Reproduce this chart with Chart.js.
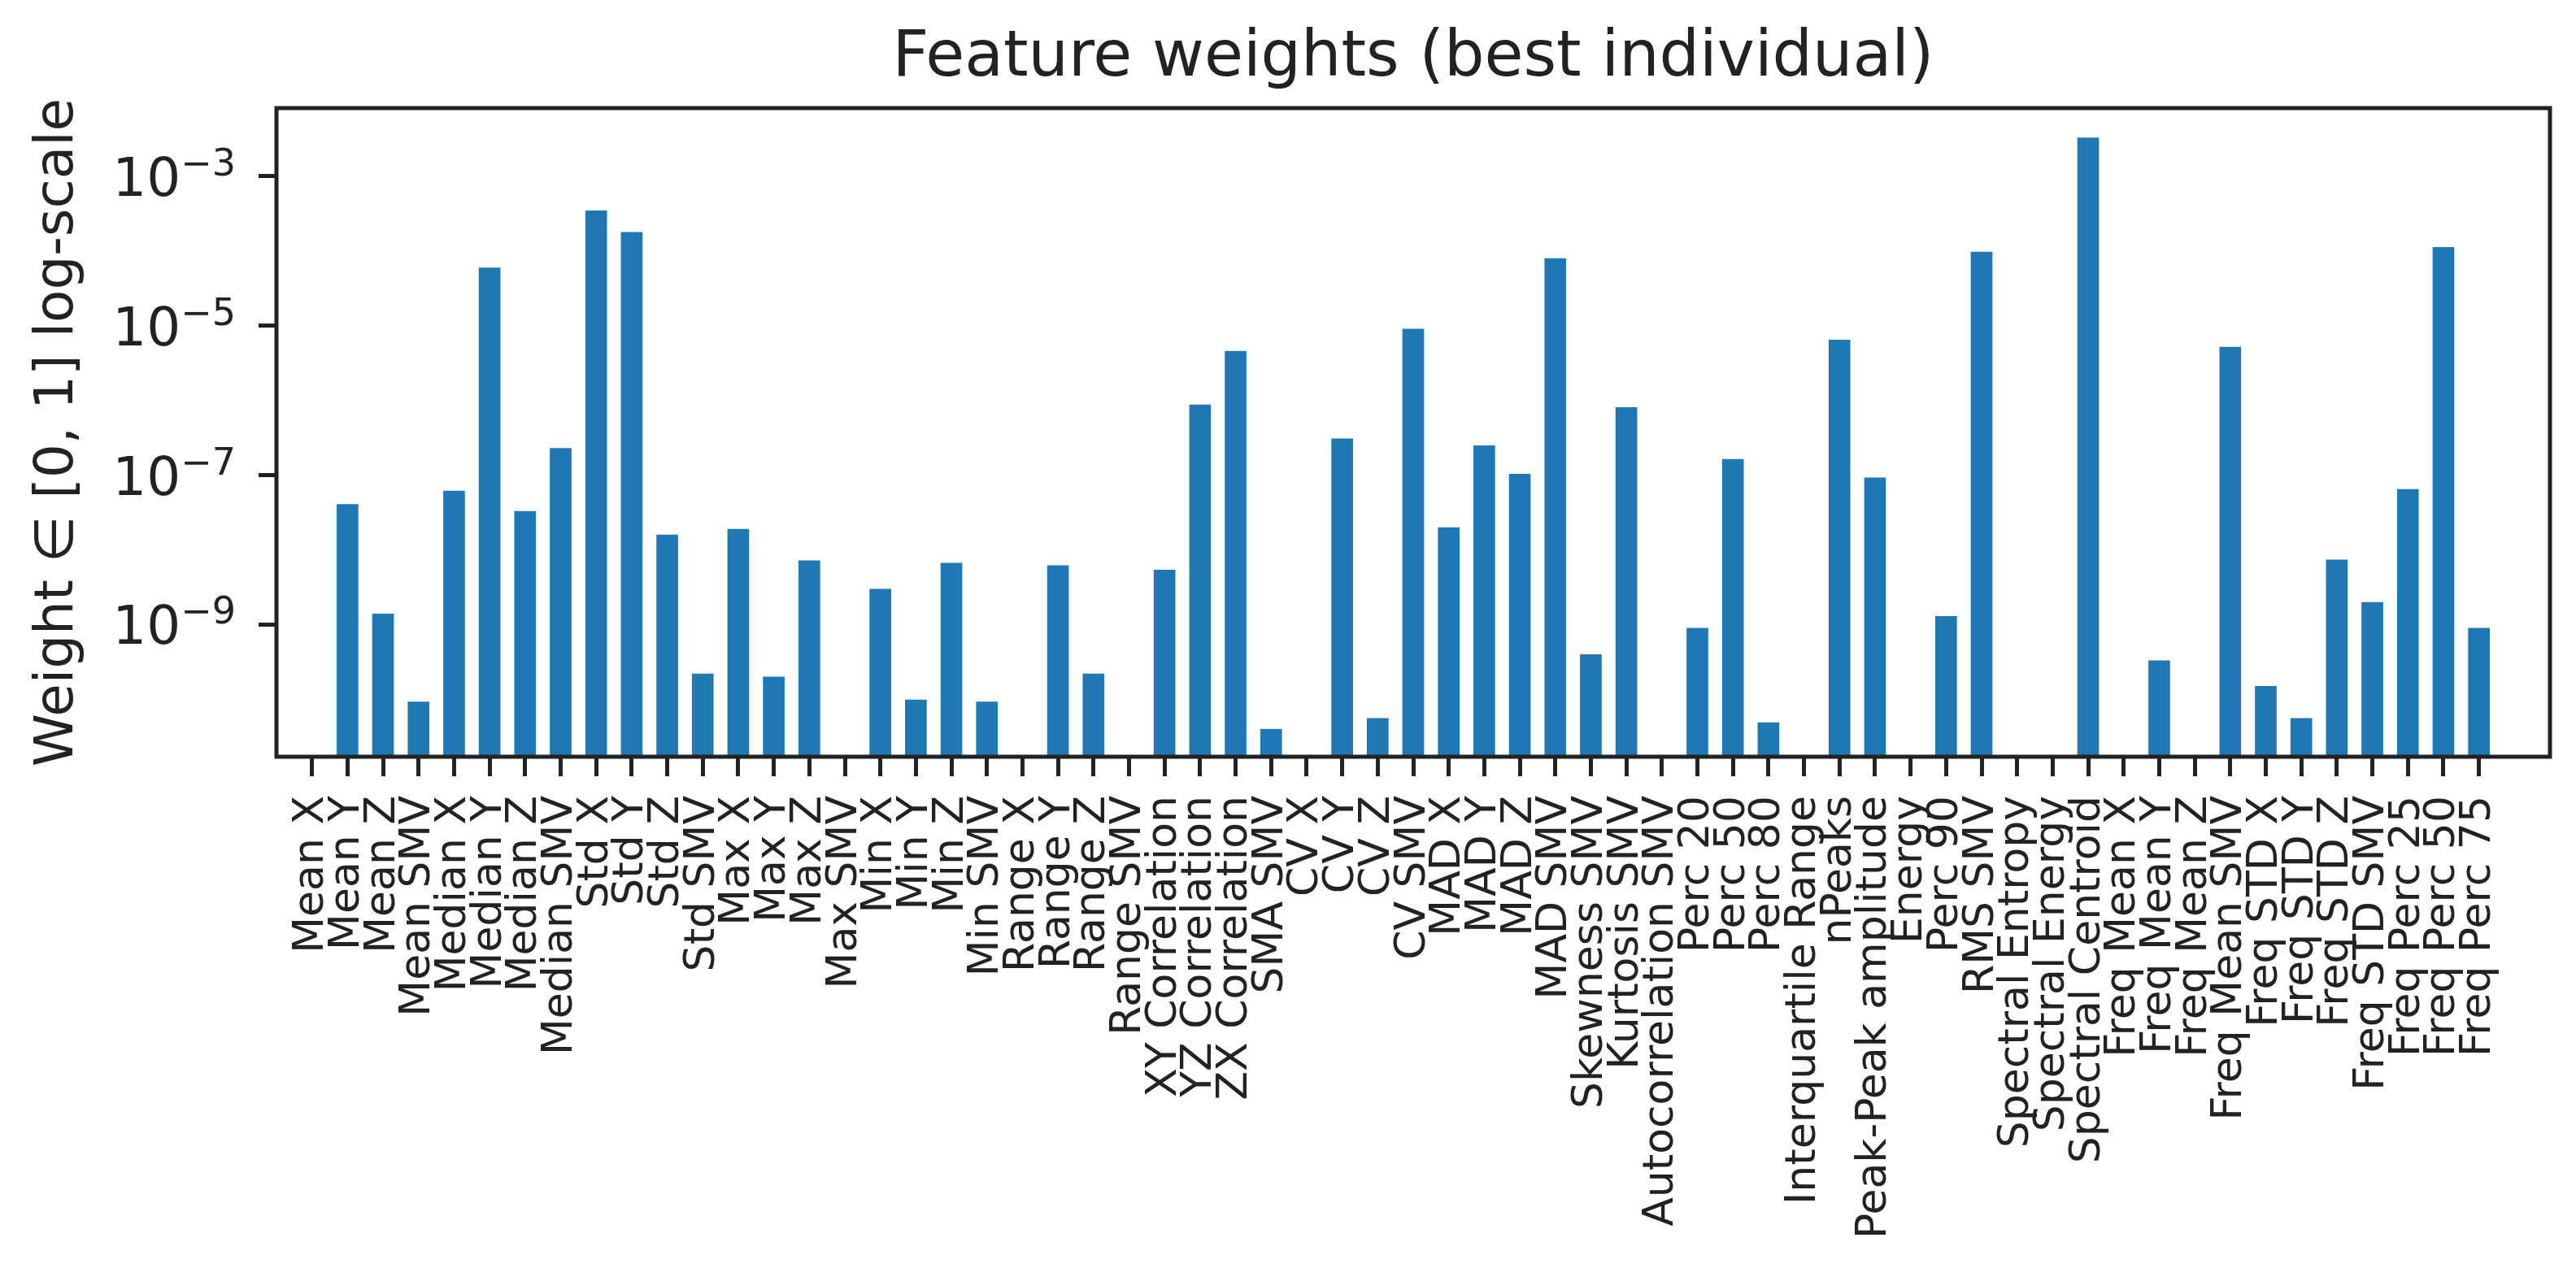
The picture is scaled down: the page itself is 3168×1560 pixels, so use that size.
<!DOCTYPE html>
<html>
<head>
<meta charset="utf-8">
<script src="https://cdn.jsdelivr.net/npm/chart.js@4.4.1/dist/chart.umd.min.js"></script>
<style>
    html, body { margin: 0; padding: 0; background: #ffffff; }
    #wrap { width: 3168px; height: 1560px; }
</style>
</head>
<body>
<div id="wrap"><canvas id="chartPesos" width="3168" height="1560"></canvas></div>
<script>
// Nombres de las features (eje x)
const featureNames = [
    'Mean X', 'Mean Y', 'Mean Z', 'Mean SMV',
    'Median X', 'Median Y', 'Median Z', 'Median SMV',
    'Std X', 'Std Y', 'Std Z', 'Std SMV',
    'Max X', 'Max Y', 'Max Z', 'Max SMV',
    'Min X', 'Min Y', 'Min Z', 'Min SMV',
    'Range X', 'Range Y', 'Range Z', 'Range SMV',
    'XY Correlation', 'YZ Correlation', 'ZX Correlation', 'SMA SMV',
    'CV X', 'CV Y', 'CV Z', 'CV SMV',
    'MAD X', 'MAD Y', 'MAD Z', 'MAD SMV',
    'Skewness SMV', 'Kurtosis SMV', 'Autocorrelation SMV',
    'Perc 20', 'Perc 50', 'Perc 80', 'Interquartile Range',
    'nPeaks', 'Peak-Peak amplitude', 'Energy', 'Perc 90', 'RMS SMV',
    'Spectral Entropy', 'Spectral Energy', 'Spectral Centroid',
    'Freq Mean X', 'Freq Mean Y', 'Freq Mean Z', 'Freq Mean SMV',
    'Freq STD X', 'Freq STD Y', 'Freq STD Z', 'Freq STD SMV',
    'Freq Perc 25', 'Freq Perc 50', 'Freq Perc 75'
];

// Pesos del mejor individuo (null = peso 0, sin barra en escala log)
const weights = [
    null, 4.1e-8, 1.4e-9, 9.3e-11,
    6.2e-8, 6.0e-5, 3.3e-8, 2.3e-7,
    3.5e-4, 1.8e-4, 1.6e-8, 2.2e-10,
    1.9e-8, 2.0e-10, 7.2e-9, null,
    3.0e-9, 9.9e-11, 6.7e-9, 9.3e-11,
    null, 6.2e-9, 2.2e-10, null,
    5.4e-9, 8.8e-7, 4.6e-6, 4.0e-11,
    null, 3.1e-7, 5.6e-11, 9.1e-6,
    2.0e-8, 2.5e-7, 1.04e-7, 8.0e-5,
    4.0e-10, 8.1e-7, null,
    9.0e-10, 1.64e-7, 4.9e-11, null,
    6.5e-6, 9.3e-8, null, 1.3e-9, 9.8e-5,
    null, null, 3.3e-3,
    null, 3.3e-10, null, 5.2e-6,
    1.5e-10, 5.6e-11, 7.4e-9, 2.0e-9,
    6.5e-8, 1.13e-4, 9.0e-10
];

// Ticks del eje y (base y exponente para dibujar 10^n)
const yTicks = [1e-9, 1e-7, 1e-5, 1e-3];
const yTickBase = '10';
const yTickExps = ['−9', '−7', '−5', '−3'];

// Límites de los ejes
const yMin = Math.pow(10, -10.77);
const yMax = Math.pow(10, -2.086);
const xMin = -1;
const xMax = 63;

const INK = '#222222';
const FONT = 'DejaVu Sans';

// Marco completo alrededor del área del gráfico
const framePlugin = {
    id: 'frame',
    afterDatasetsDraw(chart) {
        const { ctx, chartArea: a } = chart;
        ctx.save();
        ctx.strokeStyle = INK;
        ctx.lineWidth = 5;
        ctx.strokeRect(a.left, a.top, a.right - a.left, a.bottom - a.top);
        ctx.restore();
    }
};

// Etiquetas 10^n del eje y con el exponente en superíndice (como mathtext)
const expLabelsPlugin = {
    id: 'expLabels',
    afterDraw(chart) {
        const { ctx } = chart;
        const scale = chart.scales.y;
        const xEnd = scale.right - 22 - 28;
        ctx.save();
        ctx.fillStyle = INK;
        ctx.textBaseline = 'alphabetic';
        ctx.textAlign = 'left';
        scale.ticks.forEach((tick) => {
            const i = yTicks.indexOf(tick.value);
            if (i < 0) return;
            const y = scale.getPixelForValue(tick.value);
            ctx.font = `46px "${FONT}"`;
            const wExp = ctx.measureText(yTickExps[i]).width;
            ctx.font = `66px "${FONT}"`;
            const wBase = ctx.measureText(yTickBase).width;
            const x0 = xEnd - wExp - wBase;
            ctx.fillText(yTickBase, x0, y + 24);
            ctx.font = `46px "${FONT}"`;
            ctx.fillText(yTickExps[i], x0 + wBase, y - 1);
        });
        ctx.restore();
    }
};

const ctx = document.getElementById('chartPesos').getContext('2d');
new Chart(ctx, {
    type: 'bar',
    data: {
        datasets: [{
            label: 'Weight',
            data: featureNames.map((name, i) => ({ x: i, y: weights[i] })),
            backgroundColor: '#1f77b4',
            borderWidth: 0,
            barPercentage: 0.61,
            categoryPercentage: 1.0
        }]
    },
    options: {
        responsive: false,
        devicePixelRatio: 1,
        animation: false,
        layout: { padding: { left: 0, right: 32, top: 0, bottom: 0 } },
        plugins: {
            legend: { display: false },
            tooltip: { enabled: false },
            title: {
                display: true,
                fullSize: false,
                text: 'Feature weights (best individual)',
                color: INK,
                font: { family: FONT, size: 78, weight: 'normal' },
                padding: { top: 26, bottom: 13.4 }
            }
        },
        scales: {
            x: {
                type: 'linear',
                min: xMin,
                max: xMax,
                offset: false,
                afterBuildTicks: (scale) => {
                    scale.ticks = featureNames.map((_, i) => ({ value: i }));
                },
                afterFit: (scale) => { scale.height = 1560 - 931; },
                grid: {
                    drawOnChartArea: false,
                    offset: false,
                    tickLength: 24,
                    tickWidth: 5,
                    tickColor: INK
                },
                border: { display: false },
                ticks: {
                    autoSkip: false,
                    maxRotation: 90,
                    minRotation: 90,
                    padding: 24,
                    color: INK,
                    font: { family: FONT, size: 52 },
                    callback: (value) => featureNames[value] ?? ''
                }
            },
            y: {
                type: 'logarithmic',
                min: yMin,
                max: yMax,
                afterBuildTicks: (scale) => {
                    scale.ticks = yTicks.map(v => ({ value: v, major: true }));
                },
                afterFit: (scale) => { scale.width = 340; },
                grid: {
                    drawOnChartArea: false,
                    tickLength: 22,
                    tickWidth: 5,
                    tickColor: INK
                },
                border: { display: false },
                ticks: { display: false },
                title: {
                    display: true,
                    text: 'Weight ∈ [0, 1] log-scale',
                    color: INK,
                    font: { family: FONT, size: 66 },
                    padding: { top: 32, bottom: 0 }
                }
            }
        }
    },
    plugins: [framePlugin, expLabelsPlugin]
});
</script>
</body>
</html>
